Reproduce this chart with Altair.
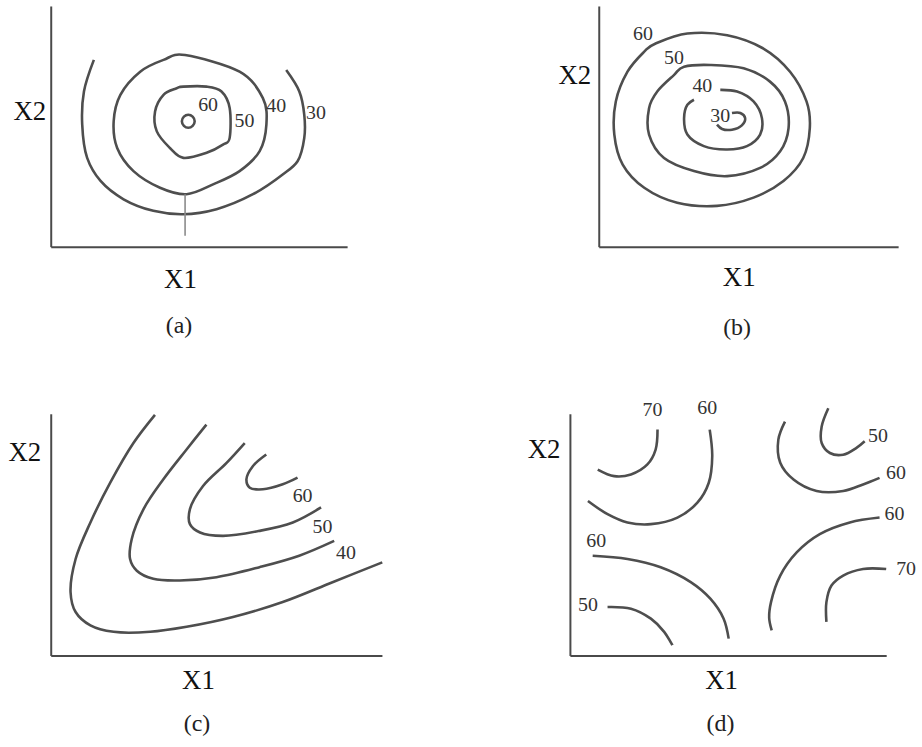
import altair as alt
import pandas as pd

# ---------------- contour traces (X1, X2) for each of the four response surfaces ----------------
# (a) maximum in the middle of the region
A_30 = [(13.1, 77.6), (9.7, 64.5), (9.1, 50.8), (10.8, 36.9), (15.4, 27.3), (23.3, 19.7), (33.5, 14.9),
        (43.8, 13.5), (55.2, 15.6), (67.7, 21.8), (77.9, 30.0), (83.0, 35.5), (85.3, 45.2), (85.3, 54.8),
        (83.6, 64.5), (79.1, 73.4)]
A_40 = [(44.4, 79.6), (63.1, 72.7), (71.1, 61.7), (72.3, 50.7), (70.0, 39.7), (63.1, 31.4), (54.0, 25.9),
        (44.9, 21.8), (35.8, 24.5), (26.7, 31.4), (21.1, 41.0), (19.9, 52.1), (22.2, 63.1), (29.0, 72.7),
        (37.0, 77.6)]
A_50 = [(43.8, 66.5), (51.8, 66.5), (56.9, 64.5), (59.7, 57.6), (59.7, 45.2), (57.4, 42.4), (51.8, 39.0),
        (43.8, 36.9), (39.2, 41.0), (34.7, 47.9), (34.1, 56.2), (37.0, 63.1), (41.5, 65.8)]
A_60 = [(45.5, 54.8), (47.0, 54.0), (47.7, 52.1), (47.0, 50.2), (45.5, 49.4), (44.0, 50.2), (43.3, 52.1),
        (44.0, 54.0)]
A_STEM = [(44.4, 21.8), (44.4, 4.5)]
A_LABELS = ["60", "50", "40", "30"]
A_LABEL_X1 = [52.3, 64.8, 75.7, 89.3]
A_LABEL_X2 = [58.9, 52.1, 58.3, 55.5]

# (b) minimum in the middle of the region
B_60 = [(19.0, 84.1), (29.6, 88.2), (42.9, 87.5), (55.0, 82.0), (63.9, 72.4), (69.4, 60.1), (70.5, 49.1),
        (68.3, 36.7), (61.7, 27.2), (51.7, 20.3), (39.5, 16.9), (26.2, 18.2), (15.2, 24.4), (8.0, 34.0),
        (5.2, 46.4), (5.7, 60.1), (9.6, 72.4), (15.2, 80.7)]
B_50 = [(28.5, 74.5), (37.3, 75.2), (48.4, 73.8), (57.2, 68.3), (62.2, 60.1), (63.4, 49.1), (60.6, 39.5),
        (53.9, 32.6), (42.9, 29.2), (31.8, 31.3), (21.8, 36.7), (16.8, 46.4), (16.8, 57.3), (19.6, 64.3),
        (25.1, 71.0)]
B_40 = [(40.6, 64.9), (46.2, 64.2), (51.7, 60.1), (54.5, 53.2), (53.9, 46.4), (49.5, 41.6), (42.9, 40.2),
        (35.1, 41.6), (29.6, 46.4), (28.5, 53.2), (29.6, 58.7), (31.8, 60.8)]
B_30 = [(44.5, 55.3), (47.3, 55.3), (48.9, 53.2), (47.8, 50.2), (44.5, 48.4), (41.2, 48.7), (39.5, 50.5)]
B_LABELS = ["60", "50", "40", "30"]
B_LABEL_X1 = [14.8, 25.1, 34.6, 40.6]
B_LABEL_X2 = [88.2, 78.2, 66.3, 53.9]

# (c) rising ridge towards the upper right
C_40 = [(32.5, 100.8), (26.1, 89.0), (19.2, 72.4), (13.3, 55.7), (8.9, 40.4), (7.4, 26.5), (8.9, 18.2),
        (13.3, 12.6), (20.2, 9.9), (31.1, 9.9), (41.9, 12.0), (55.7, 16.1), (70.5, 22.4), (85.3, 30.7),
        (100.1, 39.0)]
C_50 = [(47.8, 96.7), (41.9, 86.3), (35.0, 73.8), (29.1, 61.3), (25.6, 48.8), (25.1, 40.4), (27.1, 35.5),
        (32.0, 32.1), (39.9, 31.4), (50.8, 32.8), (63.6, 37.0), (75.4, 41.8), (85.8, 48.0)]
C_60 = [(59.2, 89.0), (53.8, 80.7), (46.8, 71.0), (42.9, 61.3), (42.9, 55.0), (45.9, 51.5), (52.7, 50.1),
        (63.6, 52.2), (73.5, 55.7), (81.9, 62.0)]
C_70 = [(65.6, 84.2), (61.6, 79.3), (59.7, 73.8), (60.7, 70.3), (64.6, 69.6), (70.5, 71.7), (74.9, 74.5)]
C_LABELS = ["60", "50", "40"]
C_LABEL_X1 = [76.4, 82.3, 89.3]
C_LABEL_X2 = [66.8, 53.6, 42.9]

# (d) saddle point
D_70_TL = [(27.7, 92.7), (27.1, 84.5), (24.5, 78.4), (19.3, 74.3), (14.0, 73.6), (8.8, 76.3)]
D_60_TL = [(44.2, 92.7), (45.0, 81.8), (43.9, 70.9), (40.3, 62.7), (34.0, 56.6), (25.6, 53.9), (18.2, 54.6),
           (11.9, 58.0), (5.7, 63.4)]
D_60_BL = [(7.2, 40.9), (18.2, 39.6), (28.7, 36.2), (38.2, 30.1), (44.4, 23.3), (48.6, 15.1), (50.2, 6.9)]
D_50_BL = [(11.9, 19.9), (19.3, 19.2), (25.6, 15.1), (29.8, 9.7), (32.4, 4.2)]
D_60_TR = [(68.0, 96.0), (65.9, 88.6), (66.5, 79.1), (70.7, 72.2), (78.0, 67.5), (86.4, 67.5), (92.7, 70.2),
           (97.9, 72.9)]
D_50_TR = [(81.7, 101.5), (79.6, 94.0), (79.6, 87.2), (82.2, 83.1), (86.4, 82.4), (90.6, 85.2), (93.2, 87.9)]
D_60_BR = [(97.9, 56.6), (88.5, 54.6), (79.0, 49.8), (71.7, 42.3), (66.5, 32.8), (63.6, 22.0), (63.0, 15.5),
           (63.8, 10.3)]
D_70_BR = [(100.0, 35.5), (92.7, 35.5), (86.4, 32.8), (82.7, 28.7), (81.1, 21.9), (81.1, 13.8)]
D_LABELS = ["70", "60", "50", "60", "60", "70", "60", "50"]
D_LABEL_X1 = [26.1, 43.4, 97.4, 103.1, 102.6, 106.3, 8.3, 5.7]
D_LABEL_X2 = [100.8, 101.5, 89.9, 75.0, 58.0, 35.5, 47.1, 20.5]

CAPTIONS = ["(a)", "(b)", "(c)", "(d)"]
CAPTION_X1 = [42.3, 46.2, 45.0, 47.6]
CAPTION_X2 = [-33.0, -33.5, -28.7, -28.1]

# ---------------- styling ----------------
SERIF = "Liberation Serif"
CURVE_COLOR = "#4e4e4e"
AXIS_COLOR = "#4a4a4a"
TEXT_COLOR = "#222222"


def to_frame(curves):
    rows = []
    for name, pts in curves.items():
        for i, (x1, x2) in enumerate(pts):
            rows.append({"curve": name, "i": i, "X1": x1, "X2": x2})
    return pd.DataFrame(rows)


def panel(closed, open_, labels, label_x1, label_x2, caption_idx,
          width, height, xdom, ydom, x1_title, x2_title, stem=None):
    x_enc = alt.X(
        "X1:Q",
        scale=alt.Scale(domain=xdom, zero=False, nice=False),
        axis=alt.Axis(title="X1", domain=True, ticks=False, labels=False, grid=False,
                      domainColor=AXIS_COLOR, domainWidth=2,
                      titleFont=SERIF, titleFontSize=27, titleFontWeight="normal",
                      titleColor="#111111", titleAlign="center", titleBaseline="alphabetic",
                      titleX=x1_title[0], titleY=x1_title[1]),
    )
    y_enc = alt.Y(
        "X2:Q",
        scale=alt.Scale(domain=ydom, zero=False, nice=False),
        axis=alt.Axis(title="X2", domain=True, ticks=False, labels=False, grid=False,
                      domainColor=AXIS_COLOR, domainWidth=2,
                      titleFont=SERIF, titleFontSize=27, titleFontWeight="normal",
                      titleColor="#111111", titleAngle=0, titleAlign="right",
                      titleBaseline="middle", titleX=x2_title[0], titleY=x2_title[1]),
    )
    layers = []
    if closed:
        layers.append(
            alt.Chart(to_frame(closed)).mark_line(
                interpolate="cardinal-closed", color=CURVE_COLOR, strokeWidth=2.6
            ).encode(x=x_enc, y=y_enc, detail="curve:N", order="i:Q")
        )
    if open_:
        layers.append(
            alt.Chart(to_frame(open_)).mark_line(
                interpolate="catmull-rom", color=CURVE_COLOR, strokeWidth=2.6
            ).encode(x=x_enc, y=y_enc, detail="curve:N", order="i:Q")
        )
    if stem:
        layers.append(
            alt.Chart(to_frame({"stem": stem})).mark_line(
                color="#8a8a8a", strokeWidth=1.6
            ).encode(x=x_enc, y=y_enc, detail="curve:N", order="i:Q")
        )
    lab = pd.DataFrame({"X1": label_x1, "X2": label_x2, "text": labels})
    layers.append(
        alt.Chart(lab).mark_text(font=SERIF, fontSize=20, color="#333333",
                                 align="center", baseline="middle")
        .encode(x=x_enc, y=y_enc, text="text:N")
    )
    cap = pd.DataFrame({"X1": [CAPTION_X1[caption_idx]], "X2": [CAPTION_X2[caption_idx]],
                        "text": [CAPTIONS[caption_idx]]})
    layers.append(
        alt.Chart(cap).mark_text(font=SERIF, fontSize=24, color=TEXT_COLOR,
                                 align="center", baseline="middle")
        .encode(x=x_enc, y=y_enc, text="text:N")
    )
    return alt.layer(*layers).properties(width=width, height=height)


pa = panel({"40": A_40, "50": A_50, "60": A_60}, {"30": A_30},
           A_LABELS, A_LABEL_X1, A_LABEL_X2, 0,
           298, 242, [-1.7, 100], [0, 100], (130, 40.7), (-5, 106), stem=A_STEM)
pb = panel({"60": B_60, "50": B_50}, {"40": B_40, "30": B_30},
           B_LABELS, B_LABEL_X1, B_LABEL_X2, 1,
           301, 242, [0, 100], [0, 99.6], (140.7, 39), (-8, 69.5))
pc = panel({}, {"40": C_40, "50": C_50, "60": C_60, "70": C_70},
           C_LABELS, C_LABEL_X1, C_LABEL_X2, 2,
           333, 243, [1.5, 100], [0, 101.25], (148, 33), (-10, 38.5))
pd_ = panel({}, {"70tl": D_70_TL, "60tl": D_60_TL, "60bl": D_60_BL, "50bl": D_50_BL,
                 "60tr": D_60_TR, "50tr": D_50_TR, "60br": D_60_BR, "70br": D_70_BR},
            D_LABELS, D_LABEL_X1, D_LABEL_X2, 3,
            318, 243, [0, 100], [0, 99.2], (152, 33), (-10, 36))

top_row = alt.hconcat(pa, pb, spacing=253, bounds="flush")
bottom_row = alt.hconcat(pc, pd_, spacing=189, bounds="flush")

# the nested rows report no height of their own under flush bounds,
# so the row gap carries the top row's 242 px plus the 168 px between rows
chart = (
    alt.vconcat(top_row, bottom_row, spacing=410, bounds="flush")
    .properties(padding={"left": 7, "top": 3, "right": 5, "bottom": 5}, background="white")
    .configure_view(stroke="transparent")
)

chart.save("out.html", embed_options={"renderer": "svg", "actions": False})
